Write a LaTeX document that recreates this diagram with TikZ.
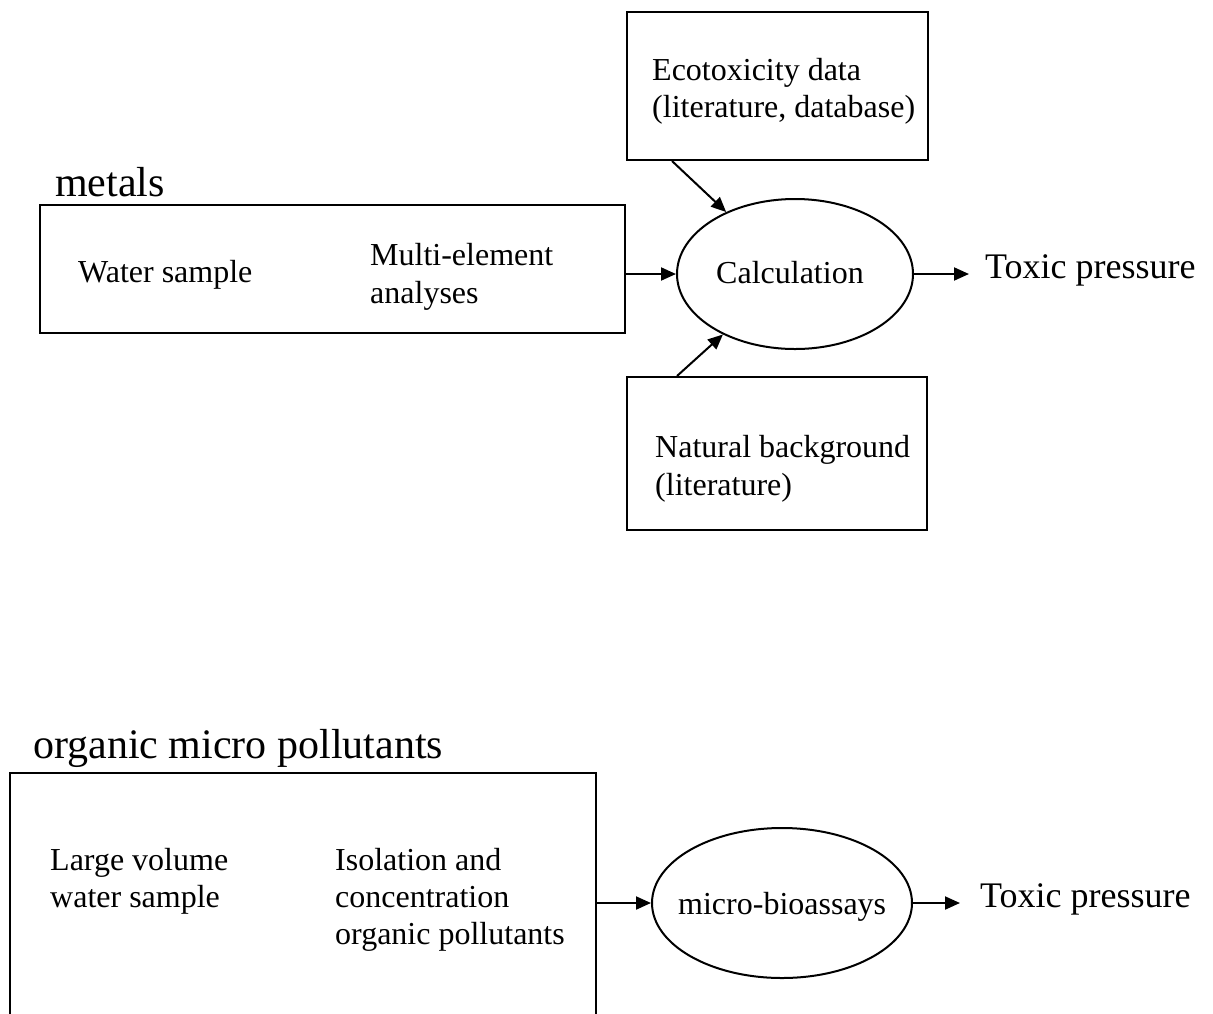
\documentclass[tikz,border=0pt]{standalone}
\usepackage{fontspec}
\setmainfont{Liberation Serif}
\usetikzlibrary{arrows.meta,shapes.geometric,calc}
\begin{document}
\begin{tikzpicture}[x=1pt,y=-1pt,
  box/.style={draw,line width=2pt,rectangle,inner sep=0pt},
  oval/.style={draw,line width=2pt,ellipse,inner sep=0pt,minimum height=150pt},
  txt/.style={anchor=base west,inner sep=0pt,font=\fontsize{32}{38}\selectfont},
  big/.style={anchor=base west,inner sep=0pt,font=\fontsize{42}{48}\selectfont},
  res/.style={anchor=base west,inner sep=0pt,font=\fontsize{36}{42}\selectfont},
  arr/.style={line width=2pt,-{Triangle[length=15pt,width=13pt]}}]
\clip (0,0) rectangle (1213,1013);
% metals part
\node[box,minimum width=301pt,minimum height=148pt] (eco) at (777.5,86) {};
\node[txt] (eco1) at (652,80) {Ecotoxicity data};
\node[txt] (eco2) at (652,117) {(literature, database)};
\node[big] (metals) at (55,196) {metals};
\node[box,minimum width=585pt,minimum height=128pt] (mbox) at (332.5,269) {};
\node[txt] (ws) at (78,282) {Water sample};
\node[txt] (me1) at (370,265) {Multi-element};
\node[txt] (me2) at (370,303) {analyses};
\node[oval,minimum width=236pt] (calc) at (795,274) {};
\node[txt] (calctxt) at (716,283) {Calculation};
\node[res] (tox1) at (985,278) {Toxic pressure};
\node[box,minimum width=300pt,minimum height=153pt] (nat) at (777,453.5) {};
\node[txt] (nat1) at (655,457) {Natural background};
\node[txt] (nat2) at (655,495) {(literature)};
\draw[arr] (mbox.east |- calc.west) -- (calc.west);
\draw[arr] (calc.east) -- ($(tox1.west |- calc.east)+(-16,0)$);
\draw[arr] ($(eco.south west)+(46,0)$) -- (calc.138);
\draw[arr] ($(nat.north west)+(51,0)$) -- (calc.220);
% organic part
\node[big] (org) at (33,758) {organic micro pollutants};
\node[box,minimum width=586pt,minimum height=300pt] (obox) at (303,923) {};
\node[txt] (lv1) at (50,870) {Large volume};
\node[txt] (lv2) at (50,907) {water sample};
\node[txt] (is1) at (335,870) {Isolation and};
\node[txt] (is2) at (335,907) {concentration};
\node[txt] (is3) at (335,944) {organic pollutants};
\node[oval,minimum width=260pt] (bio) at (782,903) {};
\node[txt] (biotxt) at (678,914) {micro-bioassays};
\node[res] (tox2) at (980,907) {Toxic pressure};
\draw[arr] (obox.east |- bio.west) -- (bio.west);
\draw[arr] (bio.east) -- ($(tox2.west |- bio.east)+(-20,0)$);
\end{tikzpicture}
\end{document}
